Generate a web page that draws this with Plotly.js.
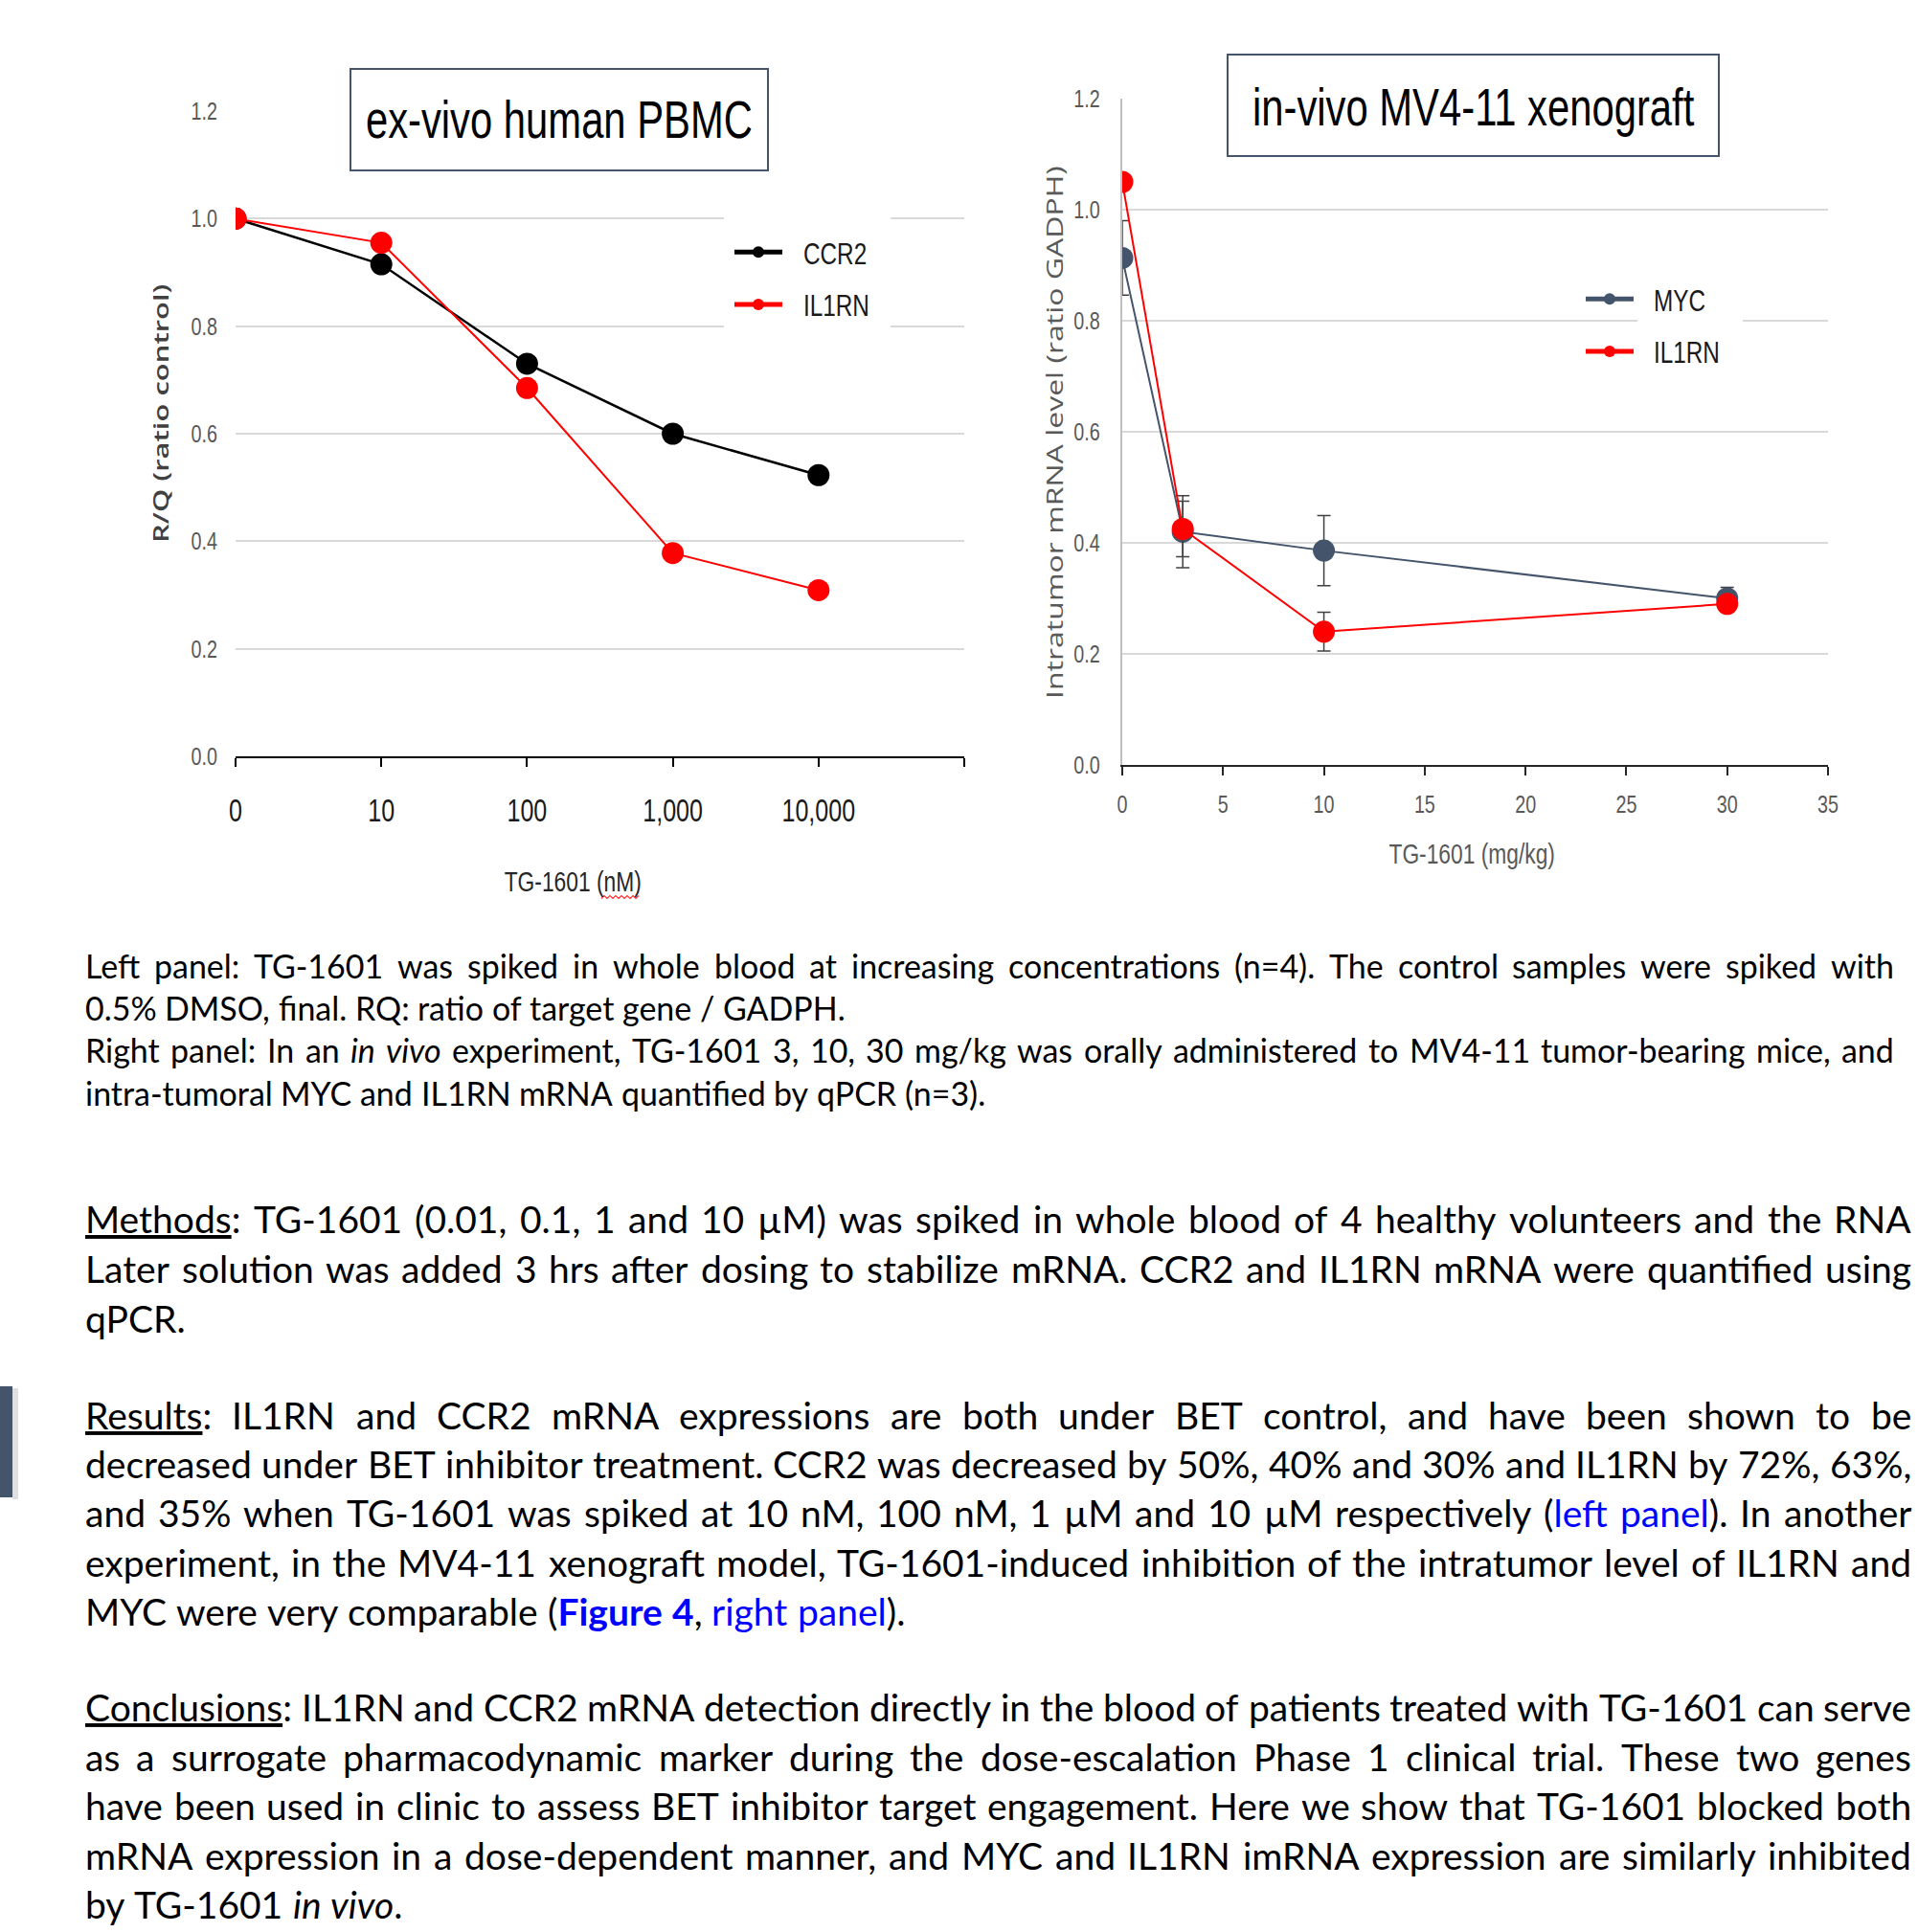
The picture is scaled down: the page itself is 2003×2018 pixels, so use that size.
<!DOCTYPE html>
<html><head><meta charset="utf-8">
<script src="https://cdn.plot.ly/plotly-3.0.1.min.js"></script>
<style>html,body{margin:0;padding:0;background:#fff;} #chart{width:2003px;height:2018px;}</style>
</head><body><div id="chart"></div>
<script>
// ---------------- DATA ----------------
const leftDoseLabels = ['0', '10', '100', '1,000', '10,000'];
const leftCCR2 = [1.0, 0.915, 0.73, 0.60, 0.523];
const leftIL1RN = [1.0, 0.955, 0.685, 0.378, 0.309];

const rightDoses = [0, 3, 10, 30];
const rightMYC = [0.913, 0.42, 0.386, 0.300];
const rightMYCErr = [0.067, 0.065, 0.063, 0.02];
const rightIL1RN = [1.05, 0.425, 0.24, 0.29];
const rightIL1RNErr = [0, 0.05, 0.035, 0.012];

const yTickVals = [0, 0.2, 0.4, 0.6, 0.8, 1.0, 1.2];
const rightXTickVals = [0, 5, 10, 15, 20, 25, 30, 35];

const leftTitle = 'ex-vivo human PBMC';
const rightTitle = 'in-vivo MV4-11 xenograft';

const captionLeftLines = [
  'Left panel: TG-1601 was spiked in whole blood at increasing concentrations (n=4). The control samples were spiked with',
  '0.5% DMSO, final. RQ: ratio of target gene / GADPH.'
];
const captionRightLines = [
  'Right panel: In an <i>in vivo</i> experiment, TG-1601 3, 10, 30 mg/kg was orally administered to MV4-11 tumor-bearing mice, and',
  'intra-tumoral MYC and IL1RN mRNA quantified by qPCR (n=3).'
];
const methodsLines = [
  '<u>Methods</u>: TG-1601 (0.01, 0.1, 1 and 10 µM) was spiked in whole blood of 4 healthy volunteers and the RNA',
  'Later solution was added 3 hrs after dosing to stabilize mRNA. CCR2 and IL1RN mRNA were quantified using',
  'qPCR.'
];
const resultsLines = [
  '<u>Results</u>: IL1RN and CCR2 mRNA expressions are both under BET control, and have been shown to be',
  'decreased under BET inhibitor treatment. CCR2 was decreased by 50%, 40% and 30% and IL1RN by 72%, 63%,',
  'and 35% when TG-1601 was spiked at 10 nM, 100 nM, 1 µM and 10 µM respectively (<span style="color:#0000ff">left panel</span>). In another',
  'experiment, in the MV4-11 xenograft model, TG-1601-induced inhibition of the intratumor level of IL1RN and',
  'MYC were very comparable (<span style="color:#0000ff"><b>Figure 4</b></span>, <span style="color:#0000ff">right panel</span>).'
];
const conclusionsLines = [
  '<u>Conclusions</u>: IL1RN and CCR2 mRNA detection directly in the blood of patients treated with TG-1601 can serve',
  'as a surrogate pharmacodynamic marker during the dose-escalation Phase 1 clinical trial. These two genes',
  'have been used in clinic to assess BET inhibitor target engagement. Here we show that TG-1601 blocked both',
  'mRNA expression in a dose-dependent manner, and MYC and IL1RN imRNA expression are similarly inhibited',
  'by TG-1601 <i>in vivo</i>.'
];

// ---------------- LAYOUT HELPERS ----------------
const W = 2003, H = 2018;
const px = x => x / W;
const py = y => 1 - y / H;
const CHART = '"Liberation Sans", Arial, sans-serif';
const BODY = 'Lato';
const SQ = 0.76;          // horizontal condensing of chart text
const SQ_ROT = 0.72;      // thickness condensing of rotated axis titles

const canvas = document.createElement('canvas');
const ctx = canvas.getContext('2d');
function measure(text, size, bold, italic) {
  ctx.font = (italic ? 'italic ' : '') + (bold ? 'bold ' : '') + size + 'px ' + BODY;
  return ctx.measureText(text).width;
}
function tokenize(line) {
  const parts = line.split(/(<[^>]+>)/).filter(s => s.length);
  const stack = [];
  const words = [];
  let cur = null;
  const startWord = () => { cur = {html: stack.map(t => t.open).join(''), segs: []}; };
  const endWord = () => {
    if (cur && cur.segs.length) {
      cur.html += stack.slice().reverse().map(t => t.close).join('');
      words.push(cur);
    }
    cur = null;
  };
  for (const p of parts) {
    if (p[0] === '<') {
      if (p[1] === '/') {
        const t = stack.pop();
        if (cur) cur.html += t.close;
      } else {
        const name = p.slice(1).split(/[\s>]/)[0];
        stack.push({name: name, open: p, close: '</' + name + '>'});
        if (cur) cur.html += p;
      }
    } else {
      p.split(' ').forEach((piece, idx) => {
        if (idx > 0) endWord();
        if (piece.length) {
          if (!cur) startWord();
          cur.html += piece;
          cur.segs.push({text: piece, bold: stack.some(t => t.name === 'b'), italic: stack.some(t => t.name === 'i')});
        }
      });
    }
  }
  endWord();
  return words;
}
function wordWidth(w, size) { return w.segs.reduce((s, g) => s + measure(g.text, size, g.bold, g.italic), 0); }
function naturalWidth(line, size) {
  const ws = tokenize(line);
  return ws.reduce((s, w) => s + wordWidth(w, size), 0) + measure(' ', size) * (ws.length - 1);
}
function fitSize(line, target) { const base = 30; return base * target / naturalWidth(line, base); }

const annotations = [];
function placeLine(line, y, x0, x1, size, justify) {
  const words = tokenize(line);
  const widths = words.map(w => wordWidth(w, size));
  const total = widths.reduce((a, b) => a + b, 0);
  const gap = (justify && words.length > 1) ? (x1 - x0 - total) / (words.length - 1) : measure(' ', size);
  let x = x0;
  words.forEach((w, i) => {
    annotations.push({
      xref: 'paper', yref: 'paper', x: px(x), y: py(y), xanchor: 'left', yanchor: 'middle',
      text: w.html, showarrow: false, borderpad: 0, borderwidth: 0,
      font: {family: BODY, size: size, color: '#000000'}
    });
    x += widths[i] + gap;
  });
}
function placeParagraph(lines, ys, x0, x1, size) {
  lines.forEach((l, i) => placeLine(l, ys[i], x0, x1, size, i < lines.length - 1));
}

const captionSize = (fitSize(captionRightLines[1], 945) + fitSize(captionLeftLines[1], 790)) / 2;
const bodySize = (fitSize(resultsLines[4], 868) + fitSize(conclusionsLines[4], 327)) / 2;
placeParagraph(captionLeftLines, [1008, 1052], 89, 1978, captionSize);
placeParagraph(captionRightLines, [1096, 1141], 89, 1978, captionSize);
placeParagraph(methodsLines, [1273, 1325, 1377], 89, 1996, bodySize);
placeParagraph(resultsLines, [1478, 1529, 1580, 1632, 1683], 89, 1996, bodySize);
placeParagraph(conclusionsLines, [1783, 1835, 1886, 1938, 1989], 89, 1996, bodySize);

const squeezeIdx = [];
const rotIdx = [];
function addChartText(a, rotated) {
  annotations.push(Object.assign({xref: 'paper', yref: 'paper', xanchor: 'center', yanchor: 'middle', showarrow: false}, a));
  (rotated ? rotIdx : squeezeIdx).push(annotations.length - 1);
}
// chart titles
addChartText({x: px(584), y: py(125), text: leftTitle, font: {family: CHART, size: 55, color: '#000000'}});
addChartText({x: px(1538), y: py(112), text: rightTitle, font: {family: CHART, size: 55, color: '#000000'}});
// axis titles
addChartText({x: px(167), y: py(432), textangle: -90, text: 'R/Q (ratio control)',
  font: {family: 'Open Sans', size: 31, weight: 600, color: '#404040'}}, true);
addChartText({x: px(1101), y: py(452), textangle: -90, text: 'Intratumor mRNA level (ratio GADPH)',
  font: {family: 'Open Sans', size: 32, color: '#595959'}}, true);
addChartText({x: px(598), y: py(920), text: 'TG-1601 (nM)', font: {family: CHART, size: 30, color: '#262626'}});
addChartText({x: px(1537), y: py(892), text: 'TG-1601 (mg/kg)', font: {family: CHART, size: 30, color: '#595959'}});

// wavy spell-check underline under "nM"
let wave = '';
for (let i = 0, x = 628; x <= 668; x += 3, i++) {
  wave += (i === 0 ? 'M' : 'L') + px(x) + ',' + py(937 + (i % 2 ? -1.5 : 1.5)) + ' ';
}

const shapes = [
  {type: 'rect', xref: 'paper', yref: 'paper', x0: px(366), x1: px(802), y0: py(178), y1: py(72),
    fillcolor: '#ffffff', line: {color: '#44546a', width: 2}, layer: 'above'},
  {type: 'rect', xref: 'paper', yref: 'paper', x0: px(1282), x1: px(1795), y0: py(163), y1: py(57),
    fillcolor: '#ffffff', line: {color: '#44546a', width: 2}, layer: 'above'},
  {type: 'rect', xref: 'paper', yref: 'paper', x0: px(756), x1: px(930), y0: py(346), y1: py(222),
    fillcolor: '#ffffff', line: {width: 0}, layer: 'above'},
  {type: 'rect', xref: 'paper', yref: 'paper', x0: px(1710), x1: px(1820), y0: py(344), y1: py(326),
    fillcolor: '#ffffff', line: {width: 0}, layer: 'above'},
  {type: 'path', xref: 'paper', yref: 'paper', path: wave, line: {color: '#ff3030', width: 1.2}},
  {type: 'rect', xref: 'paper', yref: 'paper', x0: px(13), x1: px(19), y0: py(1566), y1: py(1450),
    fillcolor: 'rgba(0,0,0,0.12)', line: {width: 0}},
  {type: 'rect', xref: 'paper', yref: 'paper', x0: 0, x1: px(13), y0: py(1564), y1: py(1448),
    fillcolor: '#44546a', line: {width: 0}}
];

const leftX = leftDoseLabels.map((_, i) => i);
const traces = [
  {x: leftX, y: leftCCR2, name: 'CCR2', type: 'scatter', mode: 'lines+markers', xaxis: 'x', yaxis: 'y',
    line: {color: '#000000', width: 2.5}, marker: {color: '#000000', size: 23}, legend: 'legend', legendgroup: 'a'},
  {x: leftX, y: leftIL1RN, name: 'IL1RN', type: 'scatter', mode: 'lines+markers', xaxis: 'x', yaxis: 'y',
    line: {color: '#ff0000', width: 2}, marker: {color: '#ff0000', size: 23}, legend: 'legend', legendgroup: 'b'},
  {x: rightDoses, y: rightMYC, name: 'MYC', type: 'scatter', mode: 'lines+markers', xaxis: 'x2', yaxis: 'y2',
    line: {color: '#44546a', width: 2}, marker: {color: '#44546a', size: 23},
    error_y: {type: 'data', array: rightMYCErr, visible: true, color: '#404040', thickness: 1.5, width: 7},
    legend: 'legend2', legendgroup: 'c'},
  {x: rightDoses, y: rightIL1RN, name: 'IL1RN', type: 'scatter', mode: 'lines+markers', xaxis: 'x2', yaxis: 'y2',
    line: {color: '#ff0000', width: 2}, marker: {color: '#ff0000', size: 23},
    error_y: {type: 'data', array: rightIL1RNErr, visible: true, color: '#404040', thickness: 1.5, width: 7},
    legend: 'legend2', legendgroup: 'd'}
];

const grayTick = {family: CHART, size: 26, color: '#595959'};
const legendFont = {family: CHART, size: 32, color: '#1a1a1a'};
const layout = {
  width: W, height: H,
  margin: {l: 0, r: 0, t: 0, b: 0},
  paper_bgcolor: '#ffffff', plot_bgcolor: '#ffffff',
  showlegend: true,
  xaxis: {domain: [px(246), px(1007)], range: [0, leftDoseLabels.length], anchor: 'y',
    tickmode: 'array', tickvals: leftX.concat([leftDoseLabels.length]), ticktext: leftDoseLabels.concat(['']),
    showgrid: false, zeroline: false, showline: true, linecolor: '#000000', linewidth: 2,
    ticks: 'outside', ticklen: 9, tickwidth: 2, tickcolor: '#000000', ticklabelstandoff: 17,
    tickfont: {family: CHART, size: 33, color: '#1a1a1a'}, fixedrange: true},
  yaxis: {domain: [py(790), py(116)], range: [0, 1.2], anchor: 'x', tickmode: 'array', tickvals: yTickVals,
    tickformat: '.1f', showgrid: true, gridcolor: '#d9d9d9', gridwidth: 2, zeroline: false, showline: false,
    ticks: '', ticklabelstandoff: 18, tickfont: grayTick, fixedrange: true},
  xaxis2: {domain: [px(1172), px(1909)], range: [0, 35], anchor: 'y2', tickmode: 'array', tickvals: rightXTickVals,
    showgrid: false, zeroline: false, showline: true, linecolor: '#262626', linewidth: 2,
    ticks: 'outside', ticklen: 9, tickwidth: 2, tickcolor: '#262626', ticklabelstandoff: 8,
    tickfont: grayTick, fixedrange: true},
  yaxis2: {domain: [py(799), py(103)], range: [0, 1.2], anchor: 'x2', tickmode: 'array', tickvals: yTickVals,
    tickformat: '.1f', showgrid: true, gridcolor: '#d9d9d9', gridwidth: 2, zeroline: false,
    showline: true, linecolor: '#bfbfbf', linewidth: 2, ticks: '', ticklabelstandoff: 16,
    tickfont: grayTick, fixedrange: true},
  legend: {x: px(762), y: py(236), xanchor: 'left', yanchor: 'top', bgcolor: 'rgba(0,0,0,0)',
    font: legendFont, itemwidth: 50, tracegroupgap: 10, itemsizing: 'constant'},
  legend2: {x: px(1651), y: py(285), xanchor: 'left', yanchor: 'top', bgcolor: 'rgba(0,0,0,0)',
    font: legendFont, itemwidth: 50, tracegroupgap: 10, itemsizing: 'constant'},
  annotations: annotations,
  shapes: shapes
};

// condense chart text horizontally (keeps it as real text); idempotent
function applyTransform(el, extra) {
  const cur = el.getAttribute('transform') || '';
  if (el.dataset.sq && cur === el.dataset.sq) return;
  const t = (cur + ' ' + extra).trim();
  el.setAttribute('transform', t);
  el.dataset.sq = t;
}
function squeezeX(el, s, dx) {
  const ax = parseFloat(el.getAttribute('x')) || 0;
  applyTransform(el, 'translate(' + (dx || 0) + ',0) translate(' + ax + ',0) scale(' + s + ',1) translate(' + (-ax) + ',0)');
}
function squeezeY(el, s) {
  if (el.dataset.sq && el.getAttribute('transform') === el.dataset.sq) return;
  const b = el.getBBox();
  const cy = b.y + b.height / 2;
  applyTransform(el, 'translate(0,' + cy + ') scale(1,' + s + ') translate(0,' + (-cy) + ')');
}
function condense(gd) {
  gd.querySelectorAll('.xaxislayer-above text, .yaxislayer-above text').forEach(el => squeezeX(el, SQ, 0));
  gd.querySelectorAll('g.legend text').forEach(el => squeezeX(el, SQ, 17));
  gd.querySelectorAll('g.legend2 text').forEach(el => squeezeX(el, SQ, 16));
  squeezeIdx.forEach(i => {
    const el = gd.querySelector('g.annotation[data-index="' + i + '"] text.annotation-text');
    if (el) squeezeX(el, SQ, 0);
  });
  rotIdx.forEach(i => {
    const el = gd.querySelector('g.annotation[data-index="' + i + '"] text.annotation-text');
    if (el) squeezeY(el, SQ_ROT);
  });
}

Plotly.newPlot('chart', traces, layout, {displayModeBar: false, staticPlot: true}).then(gd => {
  condense(gd);
  gd.on('plotly_afterplot', () => condense(gd));
  setTimeout(() => condense(gd), 50);
});
</script>
</body></html>
